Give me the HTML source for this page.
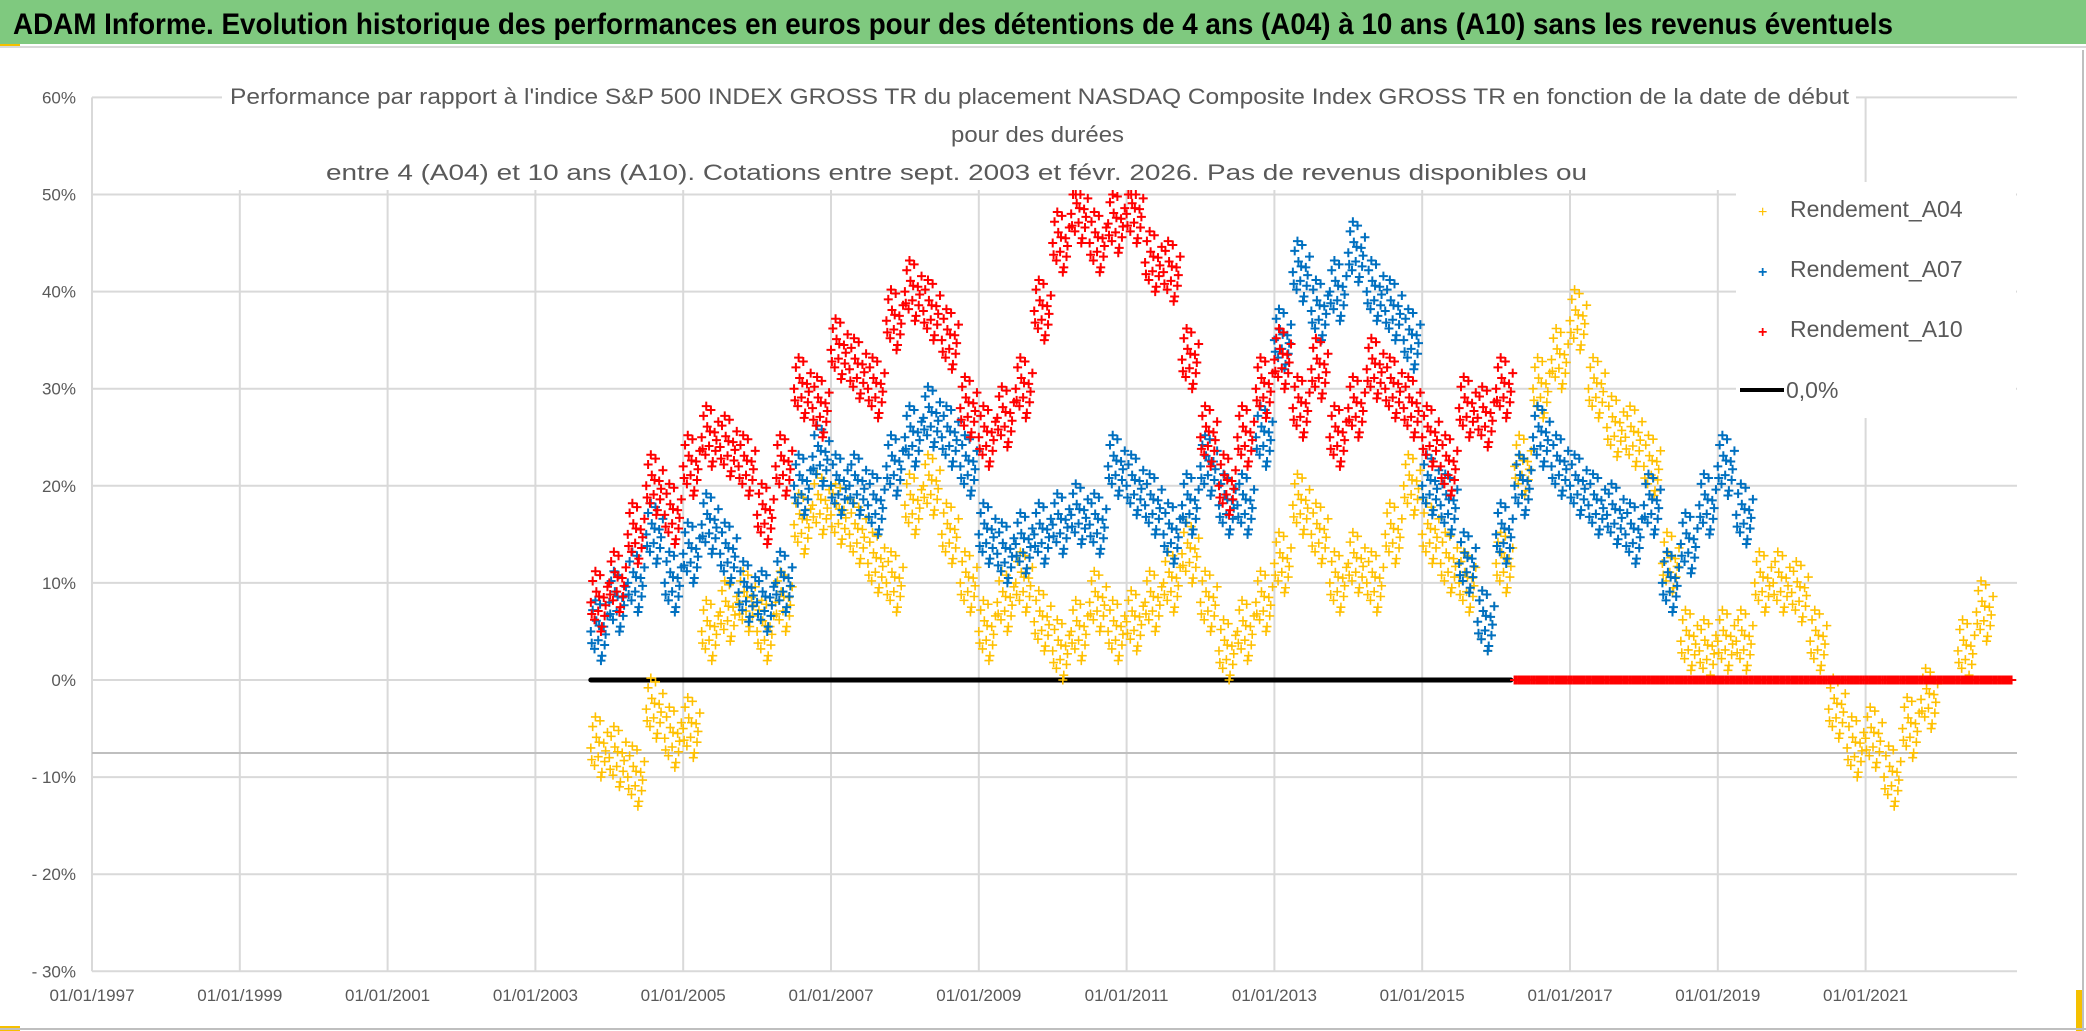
<!DOCTYPE html>
<html><head><meta charset="utf-8"><style>
html,body{margin:0;padding:0;background:#fff;}
svg{display:block;font-family:"Liberation Sans",sans-serif;}
</style></head><body>
<svg id="chart" width="2086" height="1031" viewBox="0 0 2086 1031">
<rect x="0" y="0" width="2086" height="1031" fill="#fff"/>
<rect x="0" y="0" width="2086" height="44" fill="#7fc97f"/>
<rect x="0" y="44" width="20" height="3" fill="#f5c000"/>
<line x1="0" y1="47" x2="2086" y2="47" stroke="#d9d9d9" stroke-width="2"/>
<text x="13" y="34" font-size="30" font-weight="bold" fill="#000" textLength="1880" lengthAdjust="spacingAndGlyphs">ADAM Informe. Evolution historique des performances en euros pour des détentions de 4 ans (A04) à 10 ans (A10) sans les revenus éventuels</text>
<g id="grid"></g>
<g id="yticks"></g>
<g id="xticks"></g>
<line x1="92" y1="753" x2="2017" y2="753" stroke="#bfbfbf" stroke-width="2"/>
<g id="marks"></g>
<rect x="222" y="82" width="1634" height="108" fill="#fff"/>
<g fill="#595959" font-size="22">
<text x="230" y="104" textLength="1619" lengthAdjust="spacingAndGlyphs">Performance par rapport à l'indice S&amp;P 500 INDEX GROSS TR  du placement NASDAQ Composite Index GROSS TR en fonction de la date de début</text>
<text x="951" y="142" textLength="173" lengthAdjust="spacingAndGlyphs">pour des durées</text>
<text x="326" y="180" textLength="1261" lengthAdjust="spacingAndGlyphs">entre 4 (A04) et 10 ans (A10). Cotations entre sept. 2003 et févr. 2026. Pas de revenus disponibles ou</text>
</g>
<rect x="1736" y="182" width="280" height="236" fill="#fff"/>
<g font-size="23" fill="#595959">
<g><text x="1758" y="217" fill="#ffc000" font-size="16">+</text><text x="1790" y="217">Rendement_A04</text></g>
<g><text x="1758" y="277" fill="#0070c0" font-size="16" font-weight="bold">+</text><text x="1790" y="277">Rendement_A07</text></g>
<g><text x="1758" y="337" fill="#ff0000" font-size="16" font-weight="bold">+</text><text x="1790" y="337">Rendement_A10</text></g>
<g><line x1="1740" y1="390" x2="1784" y2="390" stroke="#000" stroke-width="4"/><text x="1786" y="398">0,0%</text></g>
</g>
<rect x="2076" y="990" width="6" height="41" fill="#f5c000"/>
<rect x="0" y="1026" width="20" height="5" fill="#f5c000"/>
<line x1="2083" y1="50" x2="2083" y2="1031" stroke="#bfbfbf" stroke-width="2"/>
<line x1="0" y1="1029" x2="2086" y2="1029" stroke="#bfbfbf" stroke-width="2"/>
</svg>
<script>
const yTicks = [60, 50, 40, 30, 20, 10, 0, -10, -20, -30];
const yTickLabels = ["60%","50%","40%","30%","20%","10%","0%","- 10%","- 20%","- 30%"];
const xTickYears = [1997,1999,2001,2003,2005,2007,2009,2011,2013,2015,2017,2019,2021];
const xTickLabels = ["01/01/1997","01/01/1999","01/01/2001","01/01/2003","01/01/2005","01/01/2007","01/01/2009","01/01/2011","01/01/2013","01/01/2015","01/01/2017","01/01/2019","01/01/2021"];
const seriesStart = 2003.75;
const seriesStep = 0.25;
const a04 = [-7,-8,-10,-3,-6,-5,5,7,8,5,8,16,18,17,15,12,10,18,20,15,10,5,8,10,6,3,5,8,5,6,8,10,13,8,3,5,8,12,18,15,10,12,10,15,20,15,12,10,6,12,22,30,33,37,30,26,25,22,12,4,3,4,4,10,10,9,4,-3,-7,-6,-10,-5,-2,0,3,7,0];
const a07 = [5,8,10,15,10,13,16,13,9,8,10,20,23,20,20,18,22,25,27,25,22,15,13,14,15,16,17,16,22,20,18,15,18,22,18,18,25,35,42,38,40,44,40,38,35,20,18,12,6,15,20,25,22,20,18,17,15,18,10,14,18,22,17];
const a10 = [8,10,15,20,17,22,25,24,22,17,22,30,28,34,32,30,37,40,38,35,28,25,27,30,38,45,48,45,47,48,43,42,33,25,20,25,30,33,28,32,25,28,32,30,28,25,22,28,27,30,0,0,0,0,0,0,0,0,0,0,0,0,0,0,0,0,0,0,0,0,0,0,0,0,0,0,0];
const zeroLineStart = 2003.75, zeroLineEnd = 2016.2;

const NS="http://www.w3.org/2000/svg";
const X0=92, XPER=73.9, Y0=680, YPER=9.71;
function xs(yr){return X0+(yr-1997)*XPER;}
function ys(v){return Y0-v*YPER;}
function mk(tag,attrs,parent){const e=document.createElementNS(NS,tag);for(const k in attrs)e.setAttribute(k,attrs[k]);parent.appendChild(e);return e;}
const grid=document.getElementById('grid'), yt=document.getElementById('yticks'), xt=document.getElementById('xticks'), marks=document.getElementById('marks');
yTicks.forEach((v,i)=>{
  const l=mk('line',{x1:X0,y1:ys(v),x2:2017,y2:ys(v),stroke:'#d9d9d9','stroke-width':2},grid);
  
  
  const t=mk('text',{x:76,y:ys(v)+6,'text-anchor':'end','font-size':17,fill:'#595959'},yt);
  t.textContent=yTickLabels[i];
  
  
});
xTickYears.forEach((yr,i)=>{
  const l=mk('line',{x1:xs(yr),y1:ys(60),x2:xs(yr),y2:ys(-30),stroke:'#d9d9d9','stroke-width':2},grid);
  
  
  const t=mk('text',{x:xs(yr),y:1001,'text-anchor':'middle','font-size':17,fill:'#595959'},xt);
  t.textContent=xTickLabels[i];
  
  
});
const zl=mk('line',{x1:xs(zeroLineStart),y1:ys(0),x2:xs(zeroLineEnd),y2:ys(0),stroke:'#000','stroke-width':5,'stroke-linecap':'round'},marks);


// marker cluster pattern (styling: spreads each sample's marker glyphs)
const offs=[[0,0],[0.025,2.2],[0.05,-1.8],[0.075,1.1],[0.1,-0.9],[0.125,2.8],[0.15,-2.5],[0.175,0.5],[0.2,-0.3],[0.225,1.6],[0.012,-1.2],[0.112,0.6],[0.187,-1.4],[0.062,3.2],[0.137,-3.0]];
function drawSeries(arr,color,name,w){
  const g=mk('g',{stroke:color,'stroke-width':w},marks);
  
  
  arr.forEach((v,i)=>{
    const yr=seriesStart+i*seriesStep;
    offs.forEach(o=>{
      const vv=v===0?0:Math.min(v+o[1],50);
      const cx=xs(yr+o[0]), cy=ys(vv), s=4.5;
      mk('path',{d:`M${cx-s} ${cy}H${cx+s}M${cx} ${cy-s}V${cy+s}`},g);
    });
  });
}
drawSeries(a04,'#ffc000','series-a04',1.6);
drawSeries(a07,'#0070c0','series-a07',2);
drawSeries(a10,'#ff0000','series-a10',2);
</script>
</body></html>
